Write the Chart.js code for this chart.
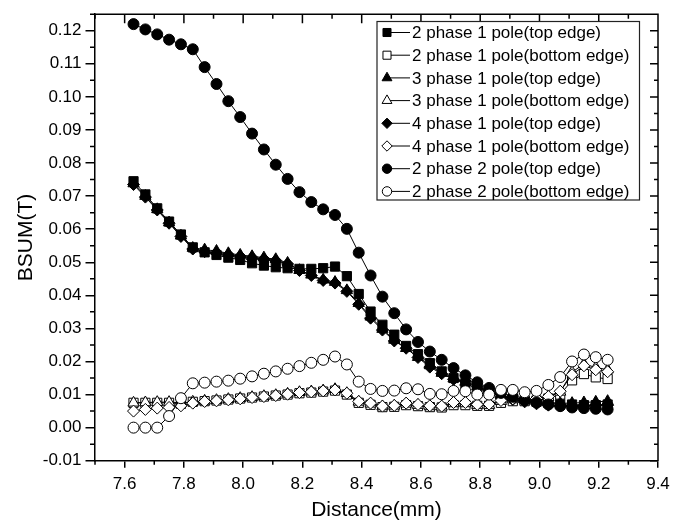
<!DOCTYPE html>
<html>
<head>
<meta charset="utf-8">
<script src="https://cdn.jsdelivr.net/npm/chart.js@4/dist/chart.umd.min.js"></script>
<style>
  html, body { margin: 0; padding: 0; background: #fff; }
  canvas { display: block; }
</style>
</head>
<body>
<canvas id="chart" width="684" height="527"></canvas>
<script>
const distanceMm = [7.63, 7.67, 7.71, 7.75, 7.79, 7.83, 7.87, 7.91, 7.95, 7.99,
  8.03, 8.07, 8.11, 8.15, 8.19, 8.23, 8.27, 8.31, 8.35, 8.39,
  8.43, 8.47, 8.51, 8.55, 8.59, 8.63, 8.67, 8.71, 8.75, 8.79,
  8.83, 8.87, 8.91, 8.95, 8.99, 9.03, 9.07, 9.11, 9.15, 9.19, 9.23];

const xTicks = [7.6, 7.8, 8.0, 8.2, 8.4, 8.6, 8.8, 9.0, 9.2, 9.4];
const yTicks = [-0.01, 0.00, 0.01, 0.02, 0.03, 0.04, 0.05, 0.06, 0.07, 0.08, 0.09, 0.10, 0.11, 0.12];

const seriesNames = [
  "2 phase 1 pole(top edge)",
  "2 phase 1 pole(bottom edge)",
  "3 phase 1 pole(top edge)",
  "3 phase 1 pole(bottom edge)",
  "4 phase 1 pole(top edge)",
  "4 phase 1 pole(bottom edge)",
  "2 phase 2 pole(top edge)",
  "2 phase 2 pole(bottom edge)"
];

const twoPhase1PoleTop = [0.0745, 0.0705, 0.0663, 0.0623, 0.0584, 0.0545, 0.0530, 0.0522, 0.0514, 0.0507,
  0.0497, 0.0490, 0.0485, 0.0482, 0.0480, 0.0480, 0.0482, 0.0487, 0.0458, 0.0404,
  0.0351, 0.0311, 0.0281, 0.0247, 0.0222, 0.0195, 0.0170, 0.0150, 0.0133, 0.0120,
  0.0105, 0.0095, 0.0088, 0.0082, 0.0078, 0.0075, 0.0072, 0.0070, 0.0068, 0.0068, 0.0070];
const twoPhase1PoleBottom = [0.0075, 0.0075, 0.0075, 0.0075, 0.0072, 0.0078, 0.0080, 0.0082, 0.0085, 0.0088,
  0.0091, 0.0094, 0.0097, 0.0100, 0.0104, 0.0106, 0.0109, 0.0112, 0.0100, 0.0075,
  0.0069, 0.0062, 0.0063, 0.0068, 0.0065, 0.0062, 0.0061, 0.0068, 0.0068, 0.0066,
  0.0066, 0.0075, 0.0080, 0.0080, 0.0082, 0.0088, 0.0100, 0.0143, 0.0162, 0.0152, 0.0147];
const threePhase1PoleTop = [0.0738, 0.0700, 0.0660, 0.0620, 0.0580, 0.0543, 0.0538, 0.0534, 0.0527, 0.0522,
  0.0518, 0.0514, 0.0509, 0.0498, 0.0476, 0.0462, 0.0447, 0.0440, 0.0415, 0.0376,
  0.0335, 0.0298, 0.0265, 0.0240, 0.0213, 0.0188, 0.0165, 0.0148, 0.0138, 0.0125,
  0.0110, 0.0097, 0.0090, 0.0085, 0.0080, 0.0076, 0.0074, 0.0074, 0.0076, 0.0078, 0.0080];
const threePhase1PoleBottom = [0.0075, 0.0076, 0.0077, 0.0077, 0.0075, 0.0078, 0.0081, 0.0083, 0.0086, 0.0089,
  0.0092, 0.0095, 0.0098, 0.0102, 0.0107, 0.0109, 0.0112, 0.0116, 0.0104, 0.0078,
  0.0072, 0.0064, 0.0066, 0.0072, 0.0068, 0.0064, 0.0063, 0.0073, 0.0073, 0.0068,
  0.0068, 0.0080, 0.0085, 0.0085, 0.0086, 0.0092, 0.0108, 0.0168, 0.0192, 0.0182, 0.0175];
const fourPhase1PoleTop = [0.0735, 0.0697, 0.0658, 0.0618, 0.0578, 0.0540, 0.0532, 0.0528, 0.0522, 0.0518,
  0.0514, 0.0510, 0.0505, 0.0495, 0.0475, 0.0460, 0.0445, 0.0437, 0.0412, 0.0373,
  0.0331, 0.0295, 0.0262, 0.0240, 0.0212, 0.0183, 0.0163, 0.0146, 0.0140, 0.0124,
  0.0108, 0.0092, 0.0085, 0.0078, 0.0072, 0.0068, 0.0066, 0.0066, 0.0066, 0.0067, 0.0068];
const fourPhase1PoleBottom = [0.0050, 0.0055, 0.0059, 0.0061, 0.0066, 0.0074, 0.0079, 0.0081, 0.0084, 0.0087,
  0.0091, 0.0094, 0.0097, 0.0101, 0.0106, 0.0108, 0.0111, 0.0114, 0.0104, 0.0079,
  0.0074, 0.0065, 0.0067, 0.0074, 0.0070, 0.0066, 0.0065, 0.0076, 0.0076, 0.0070,
  0.0071, 0.0082, 0.0087, 0.0087, 0.0088, 0.0094, 0.0110, 0.0160, 0.0187, 0.0175, 0.0169];
const twoPhase2PoleTop = [0.1220, 0.1204, 0.1189, 0.1173, 0.1159, 0.1144, 0.1090, 0.1039, 0.0987, 0.0939,
  0.0889, 0.0841, 0.0795, 0.0752, 0.0712, 0.0682, 0.0660, 0.0643, 0.0601, 0.0529,
  0.0460, 0.0396, 0.0346, 0.0297, 0.0259, 0.0230, 0.0205, 0.0180, 0.0158, 0.0137,
  0.0120, 0.0105, 0.0093, 0.0083, 0.0076, 0.0070, 0.0065, 0.0061, 0.0059, 0.0057, 0.0055];
const twoPhase2PoleBottom = [0.0000, 0.0000, 0.0000, 0.0035, 0.0089, 0.0134, 0.0136, 0.0139, 0.0142, 0.0148,
  0.0155, 0.0163, 0.0170, 0.0178, 0.0186, 0.0196, 0.0205, 0.0215, 0.0191, 0.0139,
  0.0117, 0.0111, 0.0112, 0.0119, 0.0116, 0.0102, 0.0101, 0.0111, 0.0110, 0.0100,
  0.0100, 0.0114, 0.0114, 0.0107, 0.0111, 0.0129, 0.0153, 0.0200, 0.0221, 0.0213, 0.0205];

const seriesValues = [twoPhase1PoleTop, twoPhase1PoleBottom, threePhase1PoleTop, threePhase1PoleBottom,
  fourPhase1PoleTop, fourPhase1PoleBottom, twoPhase2PoleTop, twoPhase2PoleBottom];

// marker per series: shape, filled or open, radius
const markers = [
  { style: "rect", filled: true, r: 6.5 },
  { style: "rect", filled: false, r: 6.5 },
  { style: "triangle", filled: true, r: 6.5 },
  { style: "triangle", filled: false, r: 6.5 },
  { style: "rectRot", filled: true, r: 6 },
  { style: "rectRot", filled: false, r: 6 },
  { style: "circle", filled: true, r: 5.5 },
  { style: "circle", filled: false, r: 5.5 }
];

const FONT = "'Liberation Sans', Arial, sans-serif";

const datasets = seriesValues.map((vals, i) => ({
  label: seriesNames[i],
  data: vals.map((v, k) => ({ x: distanceMm[k], y: v })),
  borderColor: "#000",
  borderWidth: 1,
  pointStyle: markers[i].style,
  pointRadius: markers[i].r,
  pointBackgroundColor: markers[i].filled ? "#000" : "#fff",
  pointBorderColor: "#000",
  pointBorderWidth: 1,
  tension: 0,
  order: 7 - i
}));

// axis frame, minor ticks and the boxed legend
const framePlugin = {
  id: "frame",
  afterDraw(chart) {
    const { ctx, chartArea: a } = chart;
    const x = chart.scales.x;
    const y = chart.scales.y;
    ctx.save();
    ctx.strokeStyle = "#000";
    ctx.lineWidth = 1.5;
    ctx.beginPath();
    ctx.moveTo(a.left, a.top);
    ctx.lineTo(a.right, a.top);
    ctx.lineTo(a.right, a.bottom);
    xTicks.forEach(v => {
      const px = x.getPixelForValue(v);
      ctx.moveTo(px, a.top);
      ctx.lineTo(px, a.top + 9);
    });
    yTicks.forEach(v => {
      const py = y.getPixelForValue(v);
      ctx.moveTo(a.right, py);
      ctx.lineTo(a.right - 8, py);
    });
    for (let k = 0; k < 10; k++) {
      const px = x.getPixelForValue(7.5 + 0.2 * k);
      ctx.moveTo(px, a.bottom);
      ctx.lineTo(px, a.bottom + 4);
      ctx.moveTo(px, a.top);
      ctx.lineTo(px, a.top + 4.5);
    }
    for (let k = 0; k < 14; k++) {
      const py = y.getPixelForValue(-0.005 + 0.01 * k);
      ctx.moveTo(a.left, py);
      ctx.lineTo(a.left - 5, py);
      ctx.moveTo(a.right, py);
      ctx.lineTo(a.right - 4, py);
    }
    ctx.stroke();

    // legend
    const box = { left: 377, top: 21.5, right: 639.5, bottom: 200 };
    ctx.fillStyle = "#fff";
    ctx.fillRect(box.left, box.top, box.right - box.left, box.bottom - box.top);
    ctx.lineWidth = 1.2;
    ctx.strokeStyle = "#222";
    ctx.strokeRect(box.left, box.top, box.right - box.left, box.bottom - box.top);
    ctx.font = "17px " + FONT;
    ctx.textBaseline = "middle";
    seriesNames.forEach((name, i) => {
      const cy = 32.5 + 22.7 * i;
      ctx.strokeStyle = "#000";
      ctx.lineWidth = 1;
      ctx.beginPath();
      ctx.moveTo(387, cy);
      ctx.lineTo(410, cy);
      ctx.stroke();
      ctx.fillStyle = markers[i].filled ? "#000" : "#fff";
      Chart.helpers.drawPoint(ctx, {
        pointStyle: markers[i].style,
        radius: markers[i].r - 0.8,
        borderWidth: 1,
        rotation: 0
      }, 387, cy);
      ctx.fillStyle = "#000";
      ctx.fillText(name, 412, cy + 1);
    });
    ctx.restore();
  }
};

new Chart(document.getElementById("chart"), {
  type: "line",
  data: { datasets },
  options: {
    responsive: false,
    animation: false,
    events: [],
    layout: { padding: { top: 6, right: 26, left: 0, bottom: 0 } },
    plugins: { legend: { display: false }, tooltip: { enabled: false } },
    scales: {
      x: {
        type: "linear",
        min: 7.5,
        max: 9.4,
        afterBuildTicks: s => { s.ticks = xTicks.map(v => ({ value: v })); },
        afterFit: s => { s.height = 66.3; },
        border: { display: true, color: "#000", width: 1.5 },
        grid: { display: true, drawOnChartArea: false, drawTicks: true, tickLength: 7, tickColor: "#000", lineWidth: 1.5 },
        ticks: {
          color: "#000",
          font: { family: FONT, size: 17 },
          padding: 6,
          maxRotation: 0,
          autoSkip: false,
          callback: v => Number(v).toFixed(1)
        },
        title: {
          display: true,
          text: "Distance(mm)",
          color: "#000",
          font: { family: FONT, size: 21 },
          padding: { top: 0, bottom: 4 }
        }
      },
      y: {
        type: "linear",
        min: -0.01,
        max: 0.125,
        afterBuildTicks: s => { s.ticks = yTicks.map(v => ({ value: v })); },
        afterFit: s => { s.width = 95; },
        border: { display: true, color: "#000", width: 1.5 },
        grid: { display: true, drawOnChartArea: false, drawTicks: true, tickLength: 9.5, tickColor: "#000", lineWidth: 1.5 },
        ticks: {
          color: "#000",
          font: { family: FONT, size: 17 },
          padding: 4,
          autoSkip: false,
          callback: v => Number(v).toFixed(2)
        },
        title: {
          display: true,
          text: "BSUM(T)",
          color: "#000",
          font: { family: FONT, size: 21 },
          padding: { top: 14, bottom: 0 }
        }
      }
    }
  },
  plugins: [framePlugin]
});
</script>
</body>
</html>
